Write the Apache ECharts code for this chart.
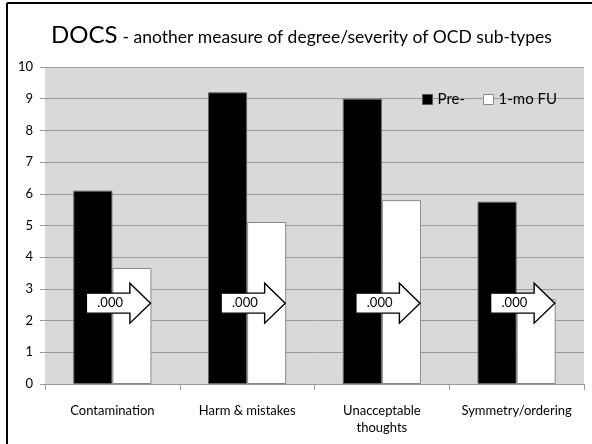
<!DOCTYPE html>
<html>
<head>
<meta charset="utf-8">
<script src="https://cdn.jsdelivr.net/npm/echarts@6/dist/echarts.min.js"></script>
<style>
  html, body { margin: 0; padding: 0; background: #fff; }
  #docs { width: 592px; height: 444px; }
</style>
</head>
<body>
<div id="docs"></div>
<script>
// values
const categories = ['Contamination', 'Harm & mistakes', 'Unacceptable\nthoughts', 'Symmetry/ordering'];
const preValues = [6.1, 9.2, 9.0, 5.75];
const fuValues = [3.66, 5.11, 5.8, 2.68];
const pLabels = ['.000', '.000', '.000', '.000'];
const arrowLevel = [2.55, 2.55, 2.55, 2.55];

const font = 'Lato, "Open Sans", sans-serif';

const myChart = echarts.init(document.getElementById('docs'));

// block arrow with the p value, placed on the category through the scales
function renderArrow(params, api) {
  const idx = api.value(0);
  const c = api.coord([idx, api.value(1)]);
  const catW = api.size([1, 0])[0];
  const left = c[0] - 0.193 * catW;
  const headX = c[0] + 0.13 * catW;
  const tipX = c[0] + 0.283 * catW;
  const y = c[1];
  const bh = 10, hh = 20;
  return {
    type: 'group',
    children: [
      {
        type: 'polygon',
        shape: {
          points: [
            [left, y - bh], [headX, y - bh], [headX, y - hh], [tipX, y],
            [headX, y + hh], [headX, y + bh], [left, y + bh]
          ]
        },
        style: { fill: '#fff', stroke: '#000', lineWidth: 1.4 }
      },
      {
        type: 'text',
        style: {
          x: (left + headX) / 2 + 2,
          y: y,
          text: pLabels[idx],
          fill: '#000',
          font: '13px ' + font,
          align: 'center',
          verticalAlign: 'middle'
        }
      }
    ]
  };
}

const option = {
  backgroundColor: '#fff',
  animation: false,
  title: {
    text: '{a|DOCS} {b|- another measure of degree/severity of OCD sub-types}',
    left: 46,
    top: 18,
    textStyle: {
      fontWeight: 'normal',
      rich: {
        a: { fontSize: 24, fontFamily: font, fontWeight: 'normal', color: '#000' },
        b: { fontSize: 17.5, fontFamily: font, fontWeight: 'normal', color: '#000', padding: [4, 0, 0, 0] }
      }
    }
  },
  legend: {
    top: 87,
    right: 30,
    icon: 'rect',
    itemWidth: 10,
    itemHeight: 10,
    itemGap: 18,
    textStyle: { fontSize: 15, fontFamily: font, color: '#000' },
    data: [
      { name: 'Pre-', itemStyle: { color: '#000', borderColor: '#555', borderWidth: 1 } },
      { name: '1-mo FU', itemStyle: { color: '#fff', borderColor: '#888', borderWidth: 1 } }
    ]
  },
  grid: { left: 45, right: 8, top: 67, bottom: 60 },
  xAxis: {
    type: 'category',
    data: categories,
    axisLine: { lineStyle: { color: '#999' } },
    axisTick: { show: true, length: 6, lineStyle: { color: '#999' } },
    axisLabel: { color: '#000', fontSize: 13, fontFamily: font, margin: 18, lineHeight: 17, interval: 0 }
  },
  yAxis: {
    type: 'value',
    min: 0,
    max: 10,
    interval: 1,
    axisLine: { show: false },
    axisTick: { show: true, length: 5, lineStyle: { color: '#999' } },
    axisLabel: { color: '#000', fontSize: 13, fontFamily: font, margin: 12 },
    splitLine: { lineStyle: { color: '#9a9a9a', width: 1 } }
  },
  graphic: [
    // gray plot background
    { type: 'rect', shape: { x: 45, y: 67, width: 539, height: 317 }, style: { fill: '#d9d9d9' }, z: -10 },
    // slide frame
    { type: 'line', shape: { x1: 7, y1: 3, x2: 592, y2: 3 }, style: { stroke: '#000', lineWidth: 2 } },
    { type: 'line', shape: { x1: 7, y1: 3, x2: 7, y2: 444 }, style: { stroke: '#000', lineWidth: 2 } }
  ],
  series: [
    {
      name: 'Pre-',
      type: 'bar',
      data: preValues,
      barGap: '0%',
      barCategoryGap: '42%',
      itemStyle: { color: '#000', borderColor: '#666', borderWidth: 1 }
    },
    {
      name: '1-mo FU',
      type: 'bar',
      data: fuValues,
      itemStyle: { color: '#fff', borderColor: '#888', borderWidth: 1 }
    },
    {
      type: 'custom',
      renderItem: renderArrow,
      data: arrowLevel.map((v, i) => [i, v]),
      encode: { x: 0, y: 1 },
      z: 10,
      silent: true
    }
  ]
};

myChart.setOption(option, true);
</script>
</body>
</html>
